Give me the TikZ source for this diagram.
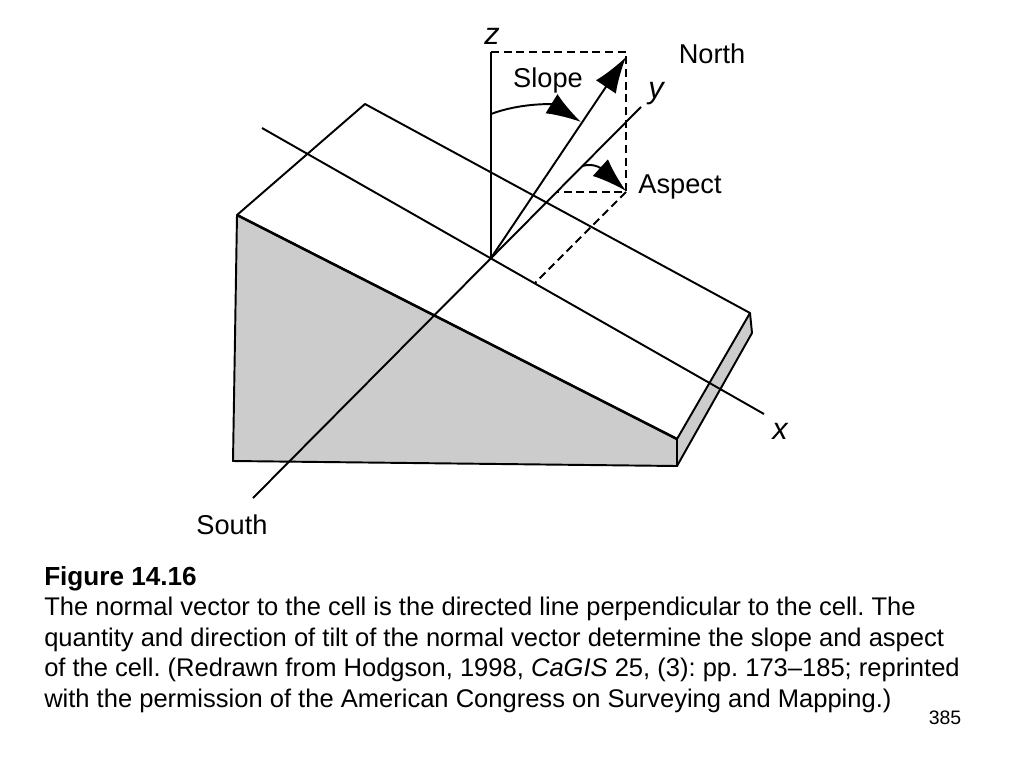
\documentclass[tikz,border=0pt]{standalone}
\usepackage{fontspec}
\setmainfont{Liberation Sans}
\usetikzlibrary{arrows.meta}
\definecolor{cellgray}{HTML}{CCCCCC}
\tikzset{
  edge/.style={line width=1.45pt, line join=round},
  dashline/.style={line width=1.45pt, dash pattern=on 6pt off 3.5pt},
  bighead/.style={-{Latex[length=27pt,width=18pt]}},
  archead/.style={-{Latex[length=26pt,width=17pt]}},
  lbl/.style={inner sep=0pt, font=\fontsize{20.4}{24}\selectfont},
  axlbl/.style={inner sep=0pt, font=\fontsize{23}{27}\selectfont\itshape},
  capt/.style={inner sep=0pt, anchor=base west, font=\fontsize{19.15}{23}\selectfont},
}
\frenchspacing
\begin{document}
\begin{tikzpicture}[x=0.75pt,y=-0.75pt]
  \useasboundingbox (0,0) rectangle (1024,768);
  % corners of the cell
  \coordinate (west) at (237,215);
  \coordinate (north) at (365,104);
  \coordinate (east) at (750,313);
  \coordinate (front) at (677,439);
  \coordinate (frontlow) at (677,466);
  \coordinate (eastlow) at (752,333);
  \coordinate (westlow) at (233,461);
  % axes
  \coordinate (origin) at (491,258);
  \coordinate (ztop) at (491,52);
  \coordinate (yend) at (641,107);
  \coordinate (send) at (253,498);
  \coordinate (xstart) at (262,128);
  \coordinate (xend) at (764,414);
  % dashed box
  \coordinate (boxtop) at (626,52);
  \coordinate (boxlow) at (626,192);
  \coordinate (yfoot) at (557,192);
  \coordinate (xfoot) at (535,283);
  \coordinate (ntip) at (626,57);
  \fill[cellgray] (west) -- (front) -- (frontlow) -- (westlow) -- cycle;
  \fill[cellgray] (front) -- (east) -- (eastlow) -- (frontlow) -- cycle;
  \draw[edge] (west) -- (north) -- (east) -- (front) -- cycle;
  \draw[edge, line width=1.9pt] (west) -- (front);
  \draw[edge] (west) -- (westlow) -- (frontlow) -- (front);
  \draw[edge] (east) -- (eastlow) -- (frontlow);
  \draw[edge] (send) -- (yend);
  \draw[edge] (xstart) -- (xend);
  \draw[edge] (origin) -- (ztop);
  \draw[dashline] (ztop) -- (boxtop) -- (boxlow) -- (yfoot);
  \draw[dashline] (boxlow) -- (xfoot);
  \draw[edge, bighead] (origin) -- (ntip);
  \draw[edge, archead] (491,114) .. controls (520,103) and (552,104) .. (581,122);
  \draw[edge, archead] (582,166) .. controls (596,162) and (604,171) .. (626,191);
  \node[axlbl] (zlabel) at (492,36) {z};
  \node[axlbl] (ylabel) at (656,94) {y};
  \node[axlbl] (xlabel) at (780,431) {x};
  \node[lbl] (slopelabel) at (548,80) {Slope};
  \node[lbl] (northlabel) at (712,54) {North};
  \node[lbl] (aspectlabel) at (680,187) {Aspect};
  \node[lbl] (southlabel) at (232,525) {South};
  \node[capt, font=\fontsize{19.6}{23}\selectfont\bfseries] (figno) at (44,585) {Figure 14.16};
  \node[capt] (line1) at (44,615) {The normal vector to the cell is the directed line perpendicular to the cell. The};
  \node[capt] (line2) at (44,646) {quantity and direction of tilt of the normal vector determine the slope and aspect};
  \node[capt] (line3) at (44,676) {of the cell. (Redrawn from Hodgson, 1998, \textit{CaGIS} 25, (3): pp. 173–185; reprinted};
  \node[capt] (line4) at (44,707) {with the permission of the American Congress on Surveying and Mapping.)};
  \node[inner sep=0pt, font=\fontsize{14.6}{17}\selectfont] (pageno) at (945,718) {385};
\end{tikzpicture}
\end{document}
